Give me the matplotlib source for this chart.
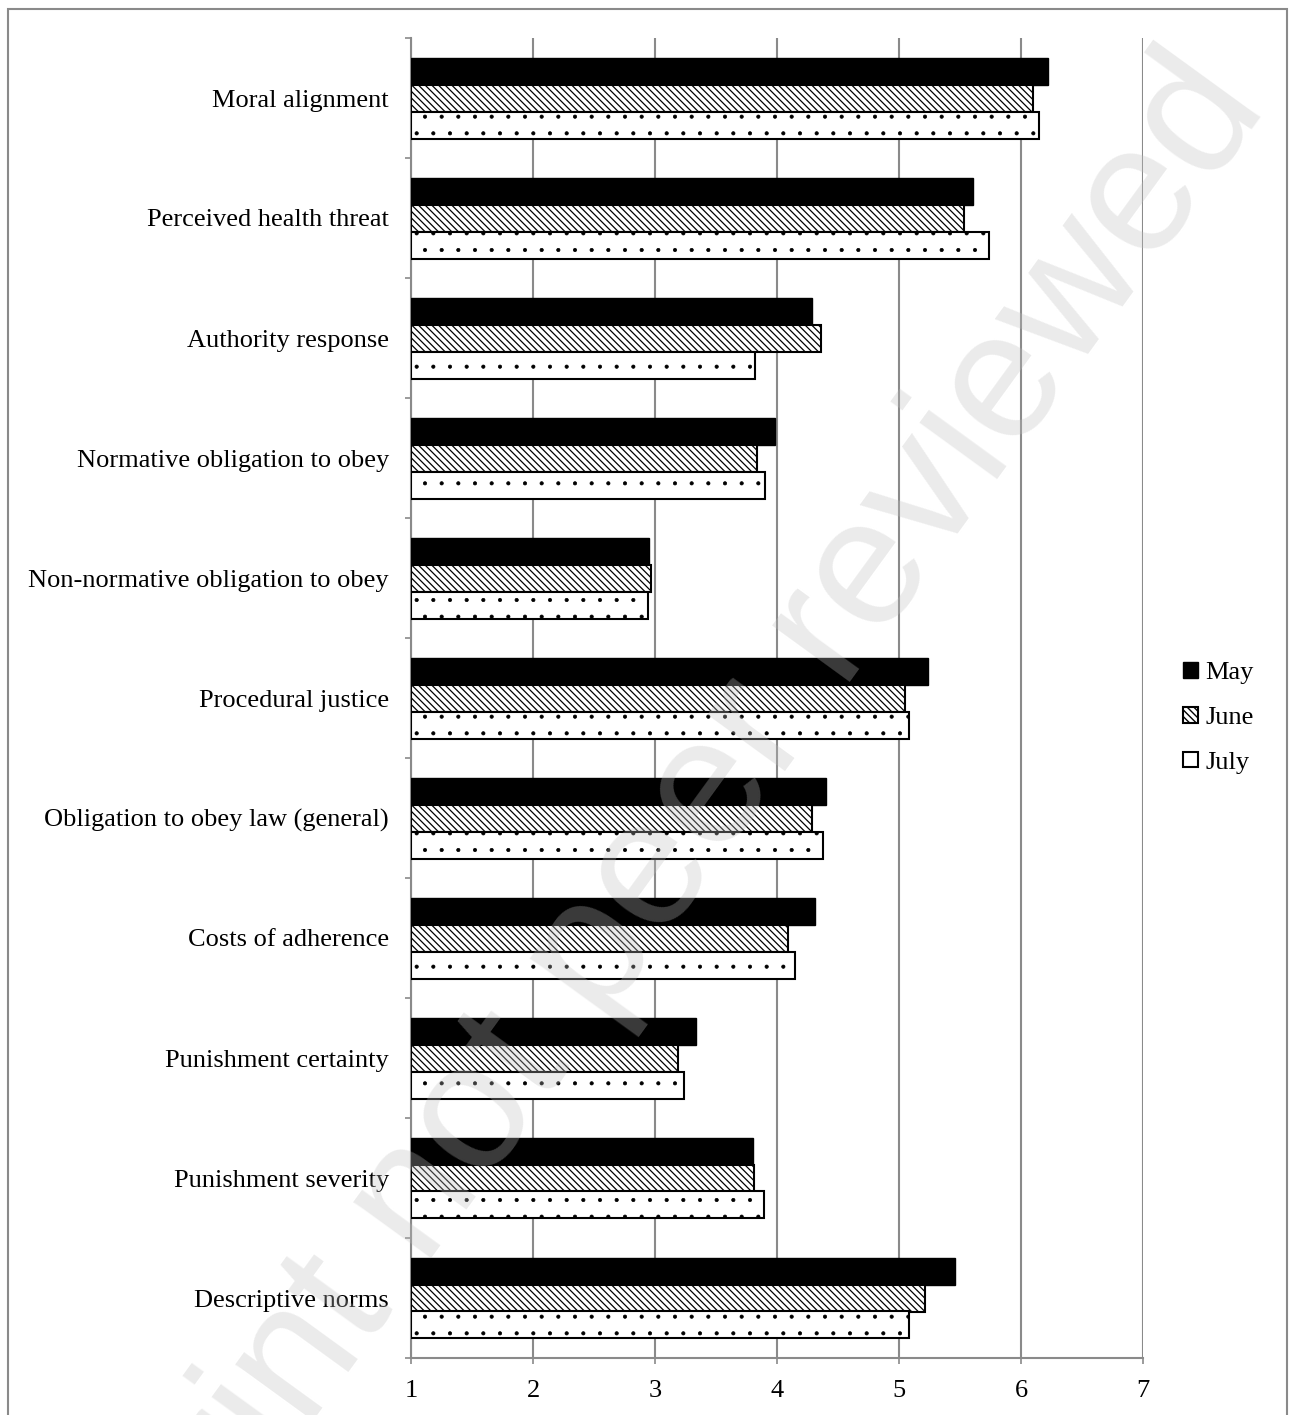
import matplotlib
matplotlib.use("Agg")
import matplotlib.pyplot as plt
from matplotlib.patches import Rectangle, Patch
import numpy as np

# data, top group first
categories = ["Moral alignment", "Perceived health threat", "Authority response",
              "Normative obligation to obey", "Non-normative obligation to obey",
              "Procedural justice", "Obligation to obey law (general)",
              "Costs of adherence", "Punishment certainty", "Punishment severity",
              "Descriptive norms"]
may = [6.22, 5.61, 4.29, 3.98, 2.95, 5.24, 4.40, 4.31, 3.34, 3.80, 5.46]
june = [6.10, 5.53, 4.36, 3.84, 2.97, 5.05, 4.29, 4.09, 3.19, 3.81, 5.21]
july = [6.15, 5.74, 3.82, 3.90, 2.94, 5.08, 4.38, 4.15, 3.24, 3.89, 5.08]
series = ["May", "June", "July"]
xticks = [1, 2, 3, 4, 5, 6, 7]

plt.rcParams['font.family'] = ['Liberation Serif', 'DejaVu Serif']
gray = '#8a8a8a'

fig = plt.figure(figsize=(12.91, 14.15), dpi=100)
ax = fig.add_axes([411/1291, 1 - 1358/1415, (1143 - 411)/1291, (1358 - 38)/1415])

y = np.arange(len(categories))
h = 0.225
base = xticks[0]

styles = [
    dict(color='black', edgecolor='black', linewidth=1.0),
    dict(color='white', edgecolor='black', hatch='\\\\\\\\\\', linewidth=1.5),
    dict(color='white', edgecolor='black', hatch='.', linewidth=1.5),
]
hatch_lw = [0.9, 0.9, 0.5]
for k, vals in enumerate([may, june, july]):
    with plt.rc_context({'hatch.linewidth': hatch_lw[k]}):
        ax.barh(y + (k - 1)*h, np.array(vals) - base, left=base, height=h,
                zorder=3, **styles[k])

ax.set_xlim(1, 7)
ax.set_ylim(len(categories) - 0.5, -0.5)
ax.set_xticks(xticks)
ax.set_xticklabels([str(t) for t in xticks], fontsize=19)
ax.set_yticks(y)
ax.set_yticklabels(categories, fontsize=19)
ax.set_yticks(np.arange(len(categories) + 1) - 0.5, minor=True)
ax.tick_params(axis='y', which='major', length=0, pad=16)
ax.tick_params(axis='y', which='minor', length=4.5, color=gray, width=1.2)
ax.tick_params(axis='x', length=4.5, color=gray, width=1.2, pad=11)

ax.xaxis.grid(True, color=gray, linewidth=1.5)
ax.set_axisbelow(True)
for s in ['top', 'right']:
    ax.spines[s].set_visible(False)
for s in ['left', 'bottom']:
    ax.spines[s].set_color(gray)
    ax.spines[s].set_linewidth(1.5)

handles = [Patch(facecolor='black', edgecolor='black'),
           Patch(facecolor='white', edgecolor='black', hatch='\\\\\\\\\\', linewidth=1.5),
           Patch(facecolor='white', edgecolor='black', linewidth=1.5)]
fig.legend(handles, series, loc='center left',
           bbox_to_anchor=(1170/1291, 1 - 718/1415), frameon=False,
           fontsize=19, handlelength=0.55, handleheight=0.55,
           handletextpad=0.3, labelspacing=0.85, borderpad=0)

# outer frame
fig.patches.append(Rectangle((8/1291, -0.02), (1287 - 8)/1291, 1 - 9/1415 + 0.02,
                             transform=fig.transFigure, fill=False,
                             edgecolor=gray, linewidth=1.5))

# watermark
fig.text(652/1291, 1 - 955/1415, "preprint not peer reviewed", rotation=54,
         rotation_mode='anchor', ha='center', va='baseline',
         fontsize=130, family='Liberation Sans',
         color=(0.75, 0.75, 0.75), alpha=0.31, zorder=10)

fig.savefig("out.png", dpi=100)
